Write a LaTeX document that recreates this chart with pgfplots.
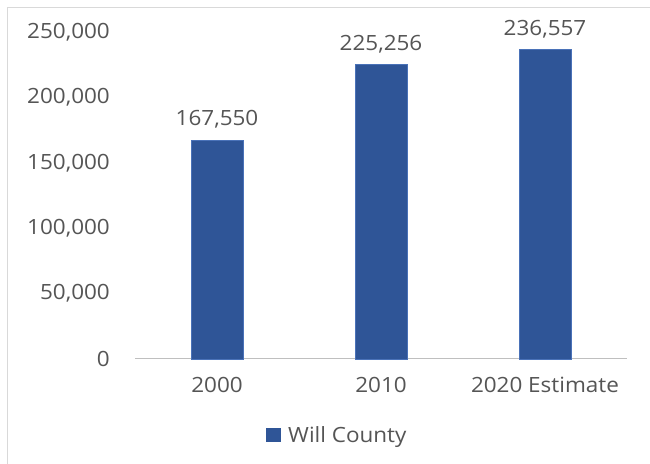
\documentclass[border=0pt]{standalone}
\usepackage{pgfplots}
\pgfplotsset{compat=1.18}
\usepackage{fontspec}
\setmainfont{Open Sans}[FakeStretch=1.07]
\definecolor{barblue}{HTML}{2F5597}
\definecolor{baredge}{HTML}{4A72B8}
\definecolor{txtgray}{HTML}{555555}
\definecolor{axgray}{HTML}{BFBFBF}
\definecolor{framegray}{HTML}{D9D9D9}
\newcommand{\lblfont}{\fontsize{21bp}{25bp}\selectfont}
\begin{document}
\begin{tikzpicture}[x=1bp,y=1bp]
\lblfont
\useasboundingbox (0,0) rectangle (650,464);
\fill[white] (0,0) rectangle (650,464);
\draw[framegray, line width=1.2bp] (7.5,0) -- (7.5,456.5) -- (650,456.5);
\begin{axis}[
  at={(135bp,105bp)}, anchor=south west,
  scale only axis,
  width=492bp, height=326.7bp,
  xmin=-0.5, xmax=2.5, ymin=0, ymax=250000,
  axis line style={draw=none},
  ybar, bar width=52bp,
  xtick=data, xticklabels={2000,2010,2020 Estimate},
  ytick={0,50000,100000,150000,200000,250000},
  scaled y ticks=false,
  /pgf/number format/assume math mode=true,
  /pgf/number format/.cd, 1000 sep={,}, fixed, precision=0, /pgfplots/.cd,
  major tick length=0pt, tick style={draw=none},
  tick label style={font=\lblfont, text=txtgray, inner sep=0pt},
  yticklabel style={anchor=east, xshift=-25bp},
  xticklabel style={anchor=north, yshift=-18bp},
  nodes near coords,
  every node near coord/.append style={font=\lblfont, text=txtgray, anchor=base, inner sep=0pt, yshift=14.5bp},
  clip=false,
]
\draw[axgray, line width=1bp] (axis cs:-0.5,0) -- (axis cs:2.5,0);
\addplot[fill=barblue, draw=baredge, line width=0.8bp] coordinates {(0,167550) (1,225256) (2,236557)};
\end{axis}
% legend
\fill[barblue] (266,22) rectangle (281,36);
\node[anchor=base west, inner sep=0pt, text=txtgray] at (288,21) {Will County};
\end{tikzpicture}
\end{document}
